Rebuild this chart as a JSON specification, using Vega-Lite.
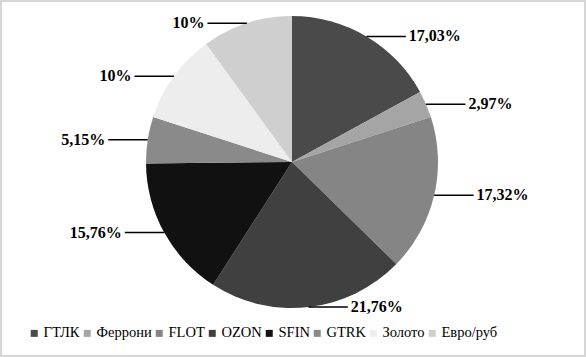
{
  "$schema": "https://vega.github.io/schema/vega-lite/v6.json",
  "width": 586,
  "height": 357,
  "padding": 0,
  "autosize": {"type": "none"},
  "background": "white",
  "config": {
    "view": {"stroke": "#d6d6d6", "strokeWidth": 4},
    "font": "Liberation Serif",
    "legend": {"labelFont": "Liberation Serif", "labelFontSize": 14.5, "labelColor": "black"}
  },
  "data": {"values": [
    {"name": "ГТЛК", "value": 17.03},
    {"name": "Феррони", "value": 2.97},
    {"name": "FLOT", "value": 17.32},
    {"name": "OZON", "value": 21.76},
    {"name": "SFIN", "value": 15.76},
    {"name": "GTRK", "value": 5.15},
    {"name": "Золото", "value": 10},
    {"name": "Евро/руб", "value": 10}
  ]},
  "transform": [
    {"window": [{"op": "row_number", "as": "idx"}, {"op": "sum", "field": "value", "as": "cum"}], "frame": [null, 0]},
    {"joinaggregate": [{"op": "sum", "field": "value", "as": "total"}]},
    {"calculate": "2*PI*(datum.cum - datum.value/2)/datum.total", "as": "mid"},
    {"calculate": "sin(datum.mid)", "as": "px"},
    {"calculate": "cos(datum.mid)", "as": "py"},
    {"calculate": "datum.px >= 0 ? 1 : -1", "as": "side"},
    {"calculate": "datum.px + datum.side*0.27", "as": "lx"},
    {"calculate": "datum.lx + datum.side*0.02", "as": "tx"},
    {"calculate": "replace(format(datum.value, '.2~f'), '.', ',') + '%'", "as": "lab"}
  ],
  "layer": [
    {
      "mark": {"type": "arc", "outerRadius": 146},
      "encoding": {
        "theta": {"field": "value", "type": "quantitative", "stack": true},
        "order": {"field": "idx", "type": "quantitative"},
        "color": {
          "field": "name", "type": "nominal",
          "scale": {
            "domain": ["ГТЛК", "Феррони", "FLOT", "OZON", "SFIN", "GTRK", "Золото", "Евро/руб"],
            "range": ["#4a4a4a", "#a5a5a5", "#858585", "#404040", "#111111", "#8a8a8a", "#ededed", "#cfcfcf"]
          },
          "legend": {
            "orient": "none", "legendX": 27, "legendY": 326, "direction": "horizontal",
            "title": null, "symbolType": "square", "symbolSize": 49, "symbolStrokeWidth": 0,
            "labelFont": "Liberation Serif", "labelFontSize": 14.5, "labelOffset": 2,
            "columnPadding": -2, "labelColor": "black"
          }
        },
        "x": {"datum": 0, "type": "quantitative", "scale": {"domain": [-2, 2.0137], "nice": false, "zero": false}, "axis": null},
        "y": {"datum": 0, "type": "quantitative", "scale": {"domain": [-1.3356, 1.1096], "nice": false, "zero": false}, "axis": null}
      }
    },
    {
      "mark": {"type": "rule", "stroke": "black", "strokeWidth": 1.5},
      "encoding": {
        "x": {"field": "px", "type": "quantitative"},
        "x2": {"field": "lx"},
        "y": {"field": "py", "type": "quantitative"},
        "y2": {"field": "py"}
      }
    },
    {
      "transform": [{"filter": "datum.side > 0"}],
      "mark": {"type": "text", "align": "left", "baseline": "middle", "fontWeight": "bold", "fontSize": 16, "font": "Liberation Serif", "color": "black"},
      "encoding": {
        "x": {"field": "tx", "type": "quantitative"},
        "y": {"field": "py", "type": "quantitative"},
        "text": {"field": "lab"}
      }
    },
    {
      "transform": [{"filter": "datum.side < 0"}],
      "mark": {"type": "text", "align": "right", "baseline": "middle", "fontWeight": "bold", "fontSize": 16, "font": "Liberation Serif", "color": "black"},
      "encoding": {
        "x": {"field": "tx", "type": "quantitative"},
        "y": {"field": "py", "type": "quantitative"},
        "text": {"field": "lab"}
      }
    }
  ]
}
